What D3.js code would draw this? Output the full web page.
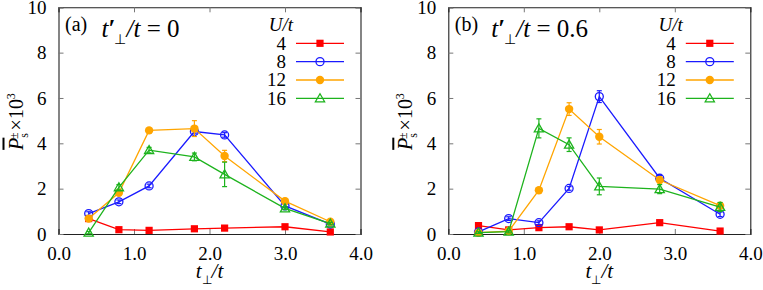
<!DOCTYPE html>
<html>
<head>
<meta charset="utf-8">
<script src="https://cdn.jsdelivr.net/npm/d3@7"></script>
<style>
  html, body { margin: 0; padding: 0; background: #fff; }
  svg { display: block; }
</style>
</head>
<body>
<svg id="chart" width="763" height="290"></svg>
<script>
// ---------------- DATA ----------------
const uLabels = ["4", "8", "12", "16"];
const seriesColors = ["#ff0000", "#1a1aff", "#ffa500", "#1db31d"];
const seriesMarkers = ["square", "circleOpen", "circleFilled", "triangleOpen"];

const xTickValues = [0, 1, 2, 3, 4];
const yTickValues = [0, 2, 4, 6, 8, 10];

// Panel (a): t'_perp/t = 0
const xA = [0.4, 0.8, 1.2, 1.8, 2.2, 3.0, 3.6];
const aU4  = [0.68, 0.19, 0.16, 0.23, 0.26, 0.32, 0.09];
const aU8  = [0.90, 1.42, 2.12, 4.52, 4.37, 1.24, 0.44];
const aU12 = [0.68, 1.82, 4.57, 4.65, 3.44, 1.45, 0.54];
const aU16 = [0.06, 2.06, 3.70, 3.40, 2.63, 1.13, 0.46];
const aE4  = [0.05, 0.04, 0.04, 0.04, 0.04, 0.04, 0.04];
const aE8  = [0.08, 0.08, 0.08, 0.10, 0.10, 0.08, 0.08];
const aE12 = [0.06, 0.08, 0.10, 0.35, 0.25, 0.12, 0.06];
const aE16 = [0.05, 0.12, 0.12, 0.17, 0.54, 0.06, 0.05];

// Panel (b): t'_perp/t = 0.6
const xB = [0.4, 0.8, 1.2, 1.6, 2.0, 2.8, 3.6];
const bU4  = [0.37, 0.18, 0.28, 0.32, 0.18, 0.50, 0.13];
const bU8  = [0.09, 0.68, 0.50, 2.01, 6.06, 2.46, 0.87];
const bU12 = [0.06, 0.13, 1.93, 5.51, 4.29, 2.38, 1.25];
const bU16 = [0.06, 0.10, 4.66, 3.94, 2.10, 1.98, 1.19];
const bE4  = [0.04, 0.04, 0.04, 0.04, 0.04, 0.04, 0.04];
const bE8  = [0.05, 0.08, 0.08, 0.08, 0.26, 0.12, 0.10];
const bE12 = [0.04, 0.05, 0.10, 0.28, 0.32, 0.12, 0.10];
const bE16 = [0.04, 0.05, 0.42, 0.30, 0.37, 0.20, 0.20];

const panels = [
  { tag: "(a)", tpVal: "0",   x: xA, ys: [aU4, aU8, aU12, aU16], es: [aE4, aE8, aE12, aE16] },
  { tag: "(b)", tpVal: "0.6", x: xB, ys: [bU4, bU8, bU12, bU16], es: [bE4, bE8, bE12, bE16] }
];

// ---------------- LAYOUT ----------------
const svg = d3.select("#chart");
const plotTop = 7.3, plotBottom = 234;
const panelLeft = [58.5, 448.3];
const plotWidth = 302;

function drawMarker(g, type, cx, cy, color) {
  if (type === "square") {
    g.append("rect").attr("x", cx - 3.6).attr("y", cy - 3.6).attr("width", 7.2).attr("height", 7.2)
      .attr("fill", color);
  } else if (type === "circleOpen") {
    g.append("circle").attr("cx", cx).attr("cy", cy).attr("r", 4)
      .attr("fill", "none").attr("stroke", color).attr("stroke-width", 1.3);
  } else if (type === "circleFilled") {
    g.append("circle").attr("cx", cx).attr("cy", cy).attr("r", 4.2).attr("fill", color);
  } else if (type === "triangleOpen") {
    const s = 4.6;
    g.append("path")
      .attr("d", `M${cx},${cy - s} L${cx + s},${cy + s * 0.75} L${cx - s},${cy + s * 0.75} Z`)
      .attr("fill", "none").attr("stroke", color).attr("stroke-width", 1.3);
  }
}

panels.forEach((p, pi) => {
  const x0 = panelLeft[pi];
  const x = d3.scaleLinear().domain([0, 4]).range([x0, x0 + plotWidth]);
  const y = d3.scaleLinear().domain([0, 10]).range([plotBottom, plotTop]);
  const g = svg.append("g");

  const axStyle = sel => {
    sel.attr("font-size", 19);
    sel.selectAll("path.domain").attr("stroke", "#222").attr("stroke-width", 1.1);
    sel.selectAll(".tick line").attr("stroke", "#777").attr("stroke-width", 1);
    sel.selectAll("text").attr("fill", "#000");
  };
  g.append("g").attr("transform", `translate(0,${plotBottom})`)
    .call(d3.axisBottom(x).tickValues(xTickValues).tickFormat(d3.format(".1f")).tickSize(-5).tickPadding(13))
    .call(axStyle);
  g.append("g").attr("transform", `translate(0,${plotTop})`)
    .call(d3.axisTop(x).tickValues(xTickValues).tickFormat("").tickSize(-5))
    .call(axStyle);
  g.append("g").attr("transform", `translate(${x0},0)`)
    .call(d3.axisLeft(y).tickValues(yTickValues).tickFormat(d3.format("d")).tickSize(-5).tickPadding(12))
    .call(axStyle);
  g.append("g").attr("transform", `translate(${x0 + plotWidth},0)`)
    .call(d3.axisRight(y).tickValues(yTickValues).tickFormat("").tickSize(-5))
    .call(axStyle);

  const line = d3.line().x(d => x(d[0])).y(d => y(d[1]));
  p.ys.forEach((vals, si) => {
    const color = seriesColors[si];
    const pts = p.x.map((xv, i) => [xv, vals[i], p.es[si][i]]);
    const sg = g.append("g");
    sg.append("path").datum(pts).attr("d", line)
      .attr("fill", "none").attr("stroke", color).attr("stroke-width", 1.3);
    pts.forEach(d => {
      const cx = x(d[0]);
      const yt = y(d[1] + d[2]), yb = y(d[1] - d[2]);
      sg.append("line").attr("x1", cx).attr("x2", cx).attr("y1", yt).attr("y2", yb)
        .attr("stroke", color).attr("stroke-width", 1.2);
      [yt, yb].forEach(yy => sg.append("line").attr("x1", cx - 2.5).attr("x2", cx + 2.5)
        .attr("y1", yy).attr("y2", yy).attr("stroke", color).attr("stroke-width", 1.2));
      drawMarker(sg, seriesMarkers[si], cx, y(d[1]), color);
    });
  });

  g.append("text").attr("x", x0 + 6.5).attr("y", 30.5).attr("font-size", 20).text(p.tag);
  const tt = g.append("text").attr("x", x0 + 43).attr("y", 36.5).attr("font-size", 25);
  tt.append("tspan").attr("font-style", "italic").text("t");
  tt.append("tspan").attr("font-weight", "bold").text("′");
  tt.append("tspan").attr("font-size", 14).attr("dx", -1).attr("dy", 7).text("⊥");
  tt.append("tspan").attr("font-style", "italic").attr("dy", -7).text("/t");
  tt.append("tspan").text(" = " + p.tpVal);

  const lx = x0 + 227.5;
  g.append("text").attr("x", lx + 7).attr("y", 31).attr("text-anchor", "end")
    .attr("font-size", 19).attr("font-style", "italic").text("U/t");
  uLabels.forEach((lab, si) => {
    const ly = 43.3 + si * 18.35;
    g.append("text").attr("x", lx).attr("y", ly).attr("dy", "0.33em").attr("text-anchor", "end")
      .attr("font-size", 19).text(lab);
    g.append("line").attr("x1", lx + 10).attr("x2", lx + 58).attr("y1", ly).attr("y2", ly)
      .attr("stroke", seriesColors[si]).attr("stroke-width", 1.3);
    drawMarker(g, seriesMarkers[si], lx + 34, ly, seriesColors[si]);
  });

  const xt = g.append("text").attr("x", x0 + plotWidth / 2).attr("y", 278).attr("text-anchor", "middle")
    .attr("font-size", 21);
  xt.append("tspan").attr("font-style", "italic").text("t");
  xt.append("tspan").attr("font-size", 12).attr("dy", 6).text("⊥");
  xt.append("tspan").attr("font-style", "italic").attr("dy", -6).text("/t");

  const yt = g.append("text")
    .attr("transform", `translate(${x0 - 36},121.5) rotate(-90)`)
    .attr("text-anchor", "middle").attr("font-size", 20);
  yt.append("tspan").attr("font-style", "italic").attr("text-decoration", "overline").text("P");
  yt.append("tspan").attr("font-size", 12).attr("dy", 5).text("s");
  yt.append("tspan").attr("font-size", 12).attr("dx", -6).attr("dy", -10).text("±");
  yt.append("tspan").attr("dy", 5).attr("dx", 2).text("×10");
  yt.append("tspan").attr("font-size", 12).attr("dy", -8).text("3");
});

// serif font on every text node
svg.selectAll("text").style("font-family", "'Liberation Serif'");
svg.selectAll("g").attr("font-family", null);
</script>
</body>
</html>
